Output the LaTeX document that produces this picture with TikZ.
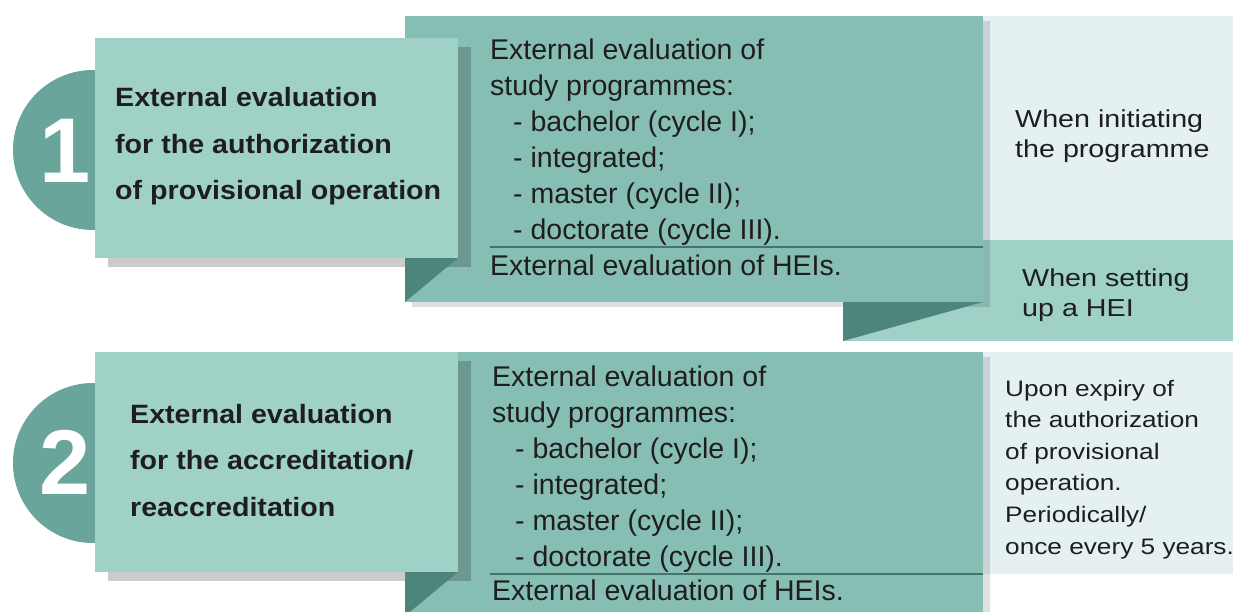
\documentclass[tikz,border=0pt]{standalone}
\usepackage{fontspec}
\setmainfont{Liberation Sans}
\newfontfamily\boxfont[FakeStretch=1.08]{Liberation Sans}
\newfontfamily\sidefont[FakeStretch=1.17]{Liberation Sans}
\usetikzlibrary{shadows}

\definecolor{paleblue}{RGB}{228,240,242}
\definecolor{lightteal}{RGB}{160,209,199}
\definecolor{midteal}{RGB}{135,190,180}
\definecolor{circteal}{RGB}{106,165,155}
\definecolor{darkteal}{RGB}{77,133,125}
\definecolor{ruleteal}{RGB}{70,115,108}
\definecolor{inkgrey}{RGB}{30,30,30}

\begin{document}
\begin{tikzpicture}[
  x=1pt, y=-1pt,
  midbox/.style={fill=midteal, drop shadow={shadow xshift=7pt, shadow yshift=-5pt, fill=black, opacity=0.12}},
  titlebox/.style={fill=lightteal, drop shadow={shadow xshift=13pt, shadow yshift=-9pt, fill=black, opacity=0.2}},
  foldtip/.style={fill=darkteal},
  listtext/.style={anchor=base west, inner sep=0, align=left, text=inkgrey, font=\fontsize{28.5}{36}\selectfont},
  titletext/.style={anchor=base west, inner sep=0, align=left, text=inkgrey, font=\boxfont\bfseries\fontsize{26.5}{46.5}\selectfont},
  sidetext/.style={anchor=base west, inner sep=0, align=left, text=inkgrey, font=\sidefont\fontsize{24.5}{30}\selectfont},
  sidesmall/.style={sidetext, font=\sidefont\fontsize{22.4}{31.6}\selectfont},
  digit/.style={text=white, inner sep=0, font=\bfseries\fontsize{92}{92}\selectfont}
]
\useasboundingbox (0,0) rectangle (1233,612);
\clip (0,0) rectangle (1233,612);

\fill [paleblue] (983,16) rectangle (1233,240);
\fill [lightteal] (843,240) rectangle (1233,341);
\fill [midbox] (405,16) rectangle (983,302);
\fill [foldtip] (843,302) -- (983,302) -- (843,341) -- cycle;
\fill [circteal] (93,150) circle (80);
\fill [titlebox] (95,38) rectangle (458,258);
\fill [foldtip] (405,258) -- (458,258) -- (405,302) -- cycle;
\draw [ruleteal, line width=1.2pt] (490,247) -- (983,247);

\node [digit] (num1) at (65,151) {1};
\node [titletext] (title1) at (115,200) {External evaluation\\for the authorization\\of provisional operation};
\node [listtext] (list1) at (490,240) {External evaluation of\\study programmes:\\\hspace*{23pt}- bachelor (cycle I);\\\hspace*{23pt}- integrated;\\\hspace*{23pt}- master (cycle II);\\\hspace*{23pt}- doctorate (cycle III).};
\node [listtext] (hei1) at (490,275) {External evaluation of HEIs.};
\node [sidetext] (init) at (1015,158) {When initiating\\the programme};
\node [sidetext] (setup) at (1022,316) {When setting\\up a HEI};

\fill [paleblue] (983,352) rectangle (1233,574);
\fill [midbox] (405,352) rectangle (983,620);
\fill [circteal] (93,463) circle (80);
\fill [titlebox] (95,352) rectangle (458,572);
\fill [foldtip] (405,572) -- (458,572) -- (405,616) -- cycle;
\draw [ruleteal, line width=1.2pt] (490,574) -- (983,574);

\node [digit] (num2) at (65,462) {2};
\node [titletext] (title2) at (130,516) {External evaluation\\for the accreditation/\\reaccreditation};
\node [listtext] (list2) at (492,566) {External evaluation of\\study programmes:\\\hspace*{23pt}- bachelor (cycle I);\\\hspace*{23pt}- integrated;\\\hspace*{23pt}- master (cycle II);\\\hspace*{23pt}- doctorate (cycle III).};
\node [listtext] (hei2) at (492,600) {External evaluation of HEIs.};
\node [sidesmall] (expiry) at (1005,554) {Upon expiry of\\the authorization\\of provisional\\operation.\\Periodically/\\once every 5 years.};
\end{tikzpicture}
\end{document}
